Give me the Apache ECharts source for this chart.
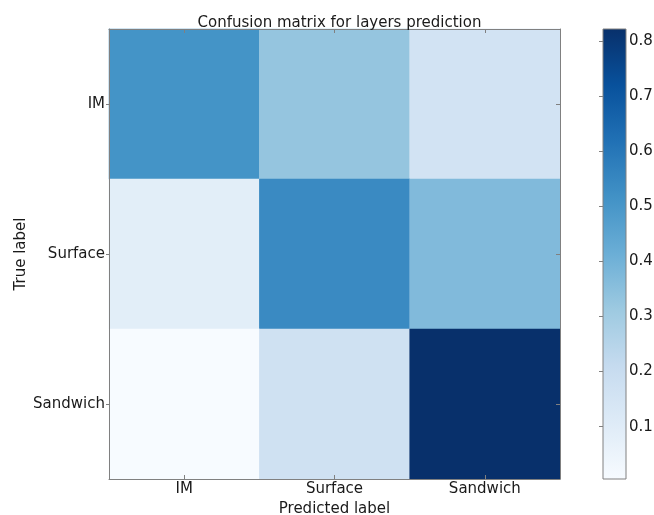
<!DOCTYPE html>
<html>
<head>
<meta charset="utf-8">
<script src="https://cdn.jsdelivr.net/npm/echarts@6/dist/echarts.min.js"></script>
<style>
html,body{margin:0;padding:0;background:#fff;}
#chart{width:654px;height:515px;}
</style>
</head>
<body>
<div id="chart"></div>
<script>
// ---- data ----
const predictedLabels = ['IM', 'Surface', 'Sandwich'];
const trueLabels = ['IM', 'Surface', 'Sandwich'];
const rowIM = [0.51, 0.33, 0.16];
const rowSurface = [0.09, 0.54, 0.37];
const rowSandwich = [0.005, 0.173, 0.822];
const colorbarTicks = [0.1, 0.2, 0.3, 0.4, 0.5, 0.6, 0.7, 0.8];
const titleText = 'Confusion matrix for layers prediction';

// ---- build ----
const rows = [rowIM, rowSurface, rowSandwich];
const cells = [];
rows.forEach((row, yi) => row.forEach((v, xi) => cells.push([xi, yi, v])));
let vmin = Infinity, vmax = -Infinity;
cells.forEach(c => { vmin = Math.min(vmin, c[2]); vmax = Math.max(vmax, c[2]); });

const blues = ['#f7fbff','#deebf7','#c6dbef','#9ecae1','#6baed6','#4292c6','#2171b5','#08519c','#08306b'];
const FONT = 'DejaVu Sans';
const TXT = '#1a1a1a';
const FRAME = '#808080';

const chart = echarts.init(document.getElementById('chart'));
chart.setOption({
  animation: false,
  backgroundColor: '#fff',
  title: {
    text: titleText, left: 334.5, textAlign: 'center', top: 11,
    textStyle: {fontFamily: FONT, fontSize: 15, fontWeight: 'normal', color: TXT}
  },
  grid: [
    {left: 109, top: 29, width: 451, height: 450, show: false, containLabel: false, outerBoundsMode: 'none'},
    {left: 603, top: 29, width: 23, height: 450, show: true, borderColor: FRAME, borderWidth: 1,
     containLabel: false, outerBoundsMode: 'none',
     backgroundColor: {type: 'linear', x: 0, y: 1, x2: 0, y2: 0,
       colorStops: blues.map((c, i) => ({offset: i / (blues.length - 1), color: c}))}}
  ],
  visualMap: {
    show: false, min: vmin, max: vmax, seriesIndex: 0, dimension: 2,
    inRange: {color: blues}
  },
  xAxis: [
    {type: 'category', gridIndex: 0, data: predictedLabels, position: 'bottom',
     name: 'Predicted label', nameLocation: 'middle', nameGap: 23, nameMoveOverlap: false,
     nameTextStyle: {fontFamily: FONT, fontSize: 15, color: TXT},
     axisLine: {show: true, lineStyle: {color: FRAME, width: 1}},
     axisTick: {show: true, inside: true, alignWithLabel: true, length: 4, lineStyle: {color: FRAME}},
     axisLabel: {fontFamily: FONT, fontSize: 15, color: TXT, margin: 3},
     splitLine: {show: false}, splitArea: {show: false}, z: 5},
    {type: 'category', gridIndex: 0, data: predictedLabels, position: 'top',
     axisLine: {show: true, lineStyle: {color: FRAME, width: 1}},
     axisTick: {show: true, inside: true, alignWithLabel: true, length: 4, lineStyle: {color: FRAME}},
     axisLabel: {show: false}, splitLine: {show: false}, z: 5},
    {type: 'value', gridIndex: 1, show: false, min: 0, max: 1}
  ],
  yAxis: [
    {type: 'category', gridIndex: 0, data: trueLabels, inverse: true, position: 'left',
     name: 'True label', nameLocation: 'middle', nameGap: 80, nameRotate: 90, nameMoveOverlap: false,
     nameTextStyle: {fontFamily: FONT, fontSize: 15, color: TXT},
     axisLine: {show: true, lineStyle: {color: FRAME, width: 1}},
     axisTick: {show: true, inside: false, alignWithLabel: true, length: 3, lineStyle: {color: FRAME}},
     axisLabel: {fontFamily: FONT, fontSize: 15, color: TXT, margin: 4},
     splitLine: {show: false}, splitArea: {show: false}, z: 5},
    {type: 'category', gridIndex: 0, data: trueLabels, inverse: true, position: 'right',
     axisLine: {show: true, lineStyle: {color: FRAME, width: 1}},
     axisTick: {show: true, inside: true, alignWithLabel: true, length: 4, lineStyle: {color: FRAME}},
     axisLabel: {show: false}, splitLine: {show: false}, z: 5},
    {type: 'value', gridIndex: 1, min: vmin, max: vmax, position: 'right',
     axisLine: {show: false},
     axisTick: {show: true, inside: true, length: 4, customValues: colorbarTicks, lineStyle: {color: FRAME}},
     axisLabel: {fontFamily: FONT, fontSize: 15, color: TXT, margin: 3, customValues: colorbarTicks,
       formatter: v => v.toFixed(1)},
     splitLine: {show: false}}
  ],
  series: [{
    type: 'heatmap', xAxisIndex: 0, yAxisIndex: 0, data: cells,
    itemStyle: {borderWidth: 0},
    label: {show: false}, emphasis: {disabled: true}
  }]
});
</script>
</body>
</html>
